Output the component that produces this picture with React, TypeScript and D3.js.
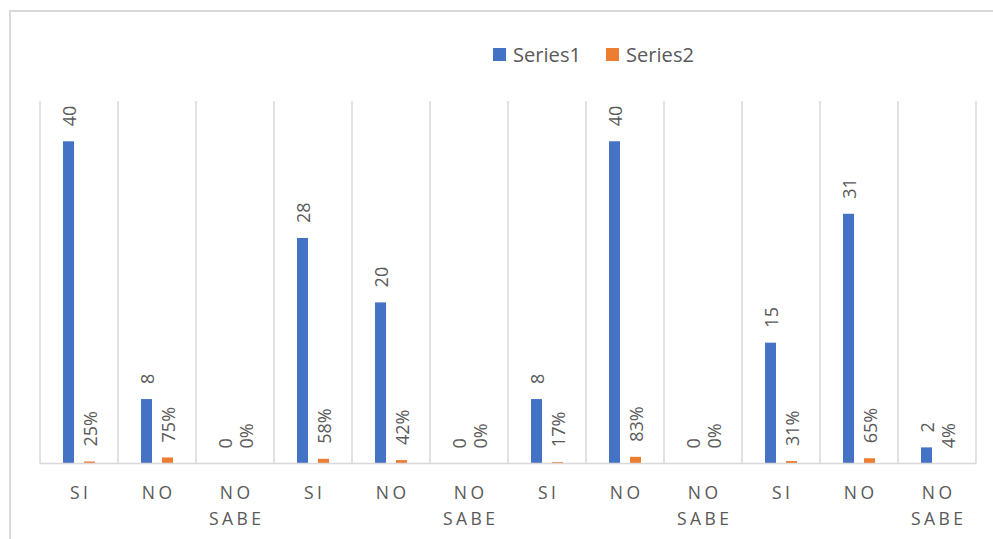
import React from "react";
import * as d3 from "d3";

const categories = ["SI", "NO", "NO SABE", "SI", "NO", "NO SABE", "SI", "NO", "NO SABE", "SI", "NO", "NO SABE"];
const series1 = [40, 8, 0, 28, 20, 0, 8, 40, 0, 15, 31, 2];
const series2 = [0.25, 0.75, 0, 0.58, 0.42, 0, 0.17, 0.83, 0, 0.31, 0.65, 0.04];
const seriesNames = ["Series1", "Series2"];
const yMax = 45;

const W = 993;
const H = 539;
const FONT = "'Open Sans', 'Noto Sans', sans-serif";
const TEXT = "#595959";
const GRID = "#d9d9d9";
const COLORS = ["#4472C4", "#ED7D31"];

export default function App() {
  const left = 40, right = 976, top = 101, base = 463.5;
  const idx = categories.map((_, i) => i);
  const x = d3.scaleBand<number>().domain(idx).range([left, right]).padding(0);
  const y = d3.scaleLinear().domain([0, yMax]).range([base, top]);
  const barW = 11;
  const gap = 10;
  const offs = [-(gap / 2 + barW / 2), gap / 2 + barW / 2];
  const pct = d3.format(".0%");
  const boundaries = d3.range(categories.length + 1).map((i) =>
    i < categories.length ? (x(i) as number) : (x(categories.length - 1) as number) + x.bandwidth()
  );
  const ls = 3.5;

  return (
    <svg width={W} height={H} style={{ position: "absolute", left: 0, top: 0, fontFamily: FONT }}>
      <rect x={0} y={0} width={W} height={H} fill="#fff" />
      <rect x={10} y={11} width={W + 20} height={H + 20} fill="none" stroke={GRID} strokeWidth={2} />
      {boundaries.map((bx, i) => (
        <line key={"g" + i} x1={bx} x2={bx} y1={top} y2={base} stroke={GRID} strokeWidth={1.5} />
      ))}
      {[series1, series2].map((vals, s) =>
        vals.map((v, i) => {
          const cx = (x(i) as number) + x.bandwidth() / 2 + offs[s];
          return (
            <rect key={`b${s}-${i}`} x={cx - barW / 2} y={y(v)} width={barW} height={base - y(v)} fill={COLORS[s]} />
          );
        })
      )}
      <line x1={left} x2={right} y1={base} y2={base} stroke={GRID} strokeWidth={1.5} />
      {[series1, series2].map((vals, s) =>
        vals.map((v, i) => {
          const cx = (x(i) as number) + x.bandwidth() / 2 + offs[s];
          const ty = y(v) - 15;
          return (
            <text
              key={`l${s}-${i}`}
              transform={`translate(${cx},${ty}) rotate(-90)`}
              textAnchor="start"
              dominantBaseline="central"
              fontSize={18}
              fill={TEXT}
            >
              {s === 0 ? String(v) : pct(v)}
            </text>
          );
        })
      )}
      {categories.map((c, i) => {
        const cx = (x(i) as number) + x.bandwidth() / 2 + ls / 2;
        return c.split(" ").map((line, j) => (
          <text key={`c${i}-${j}`} x={cx} y={499 + j * 26} textAnchor="middle" fontSize={17.5} fill={TEXT} letterSpacing={ls}>
            {line}
          </text>
        ));
      })}
      {seriesNames.map((n, s) => {
        const lx = 493 + s * 113;
        return (
          <g key={"lg" + s}>
            <rect x={lx} y={48} width={13} height={13} fill={COLORS[s]} />
            <text x={lx + 20} y={62} fontSize={19.5} fill={TEXT} textLength={68} lengthAdjust="spacingAndGlyphs">
              {n}
            </text>
          </g>
        );
      })}
    </svg>
  );
}
